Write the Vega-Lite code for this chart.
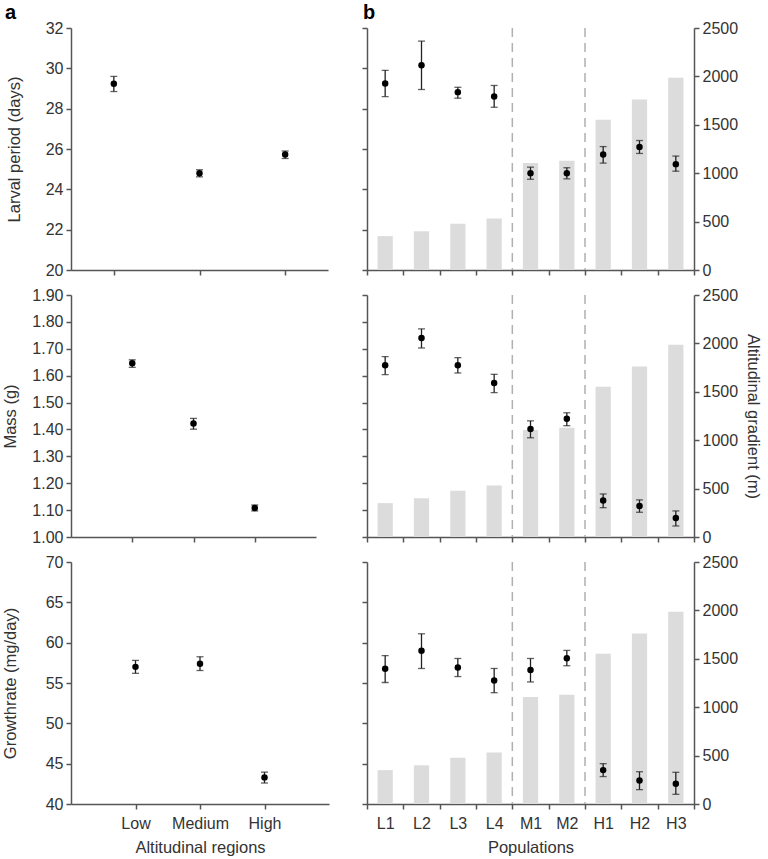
{
  "$schema": "https://vega.github.io/schema/vega-lite/v6.json",
  "background": "white",
  "padding": {"left": 1, "top": 3, "right": 2, "bottom": 2},
  "datasets": {
    "left": [
      {"v": "larval", "region": "Low", "mean": 29.23, "lo": 28.85, "hi": 29.6},
      {"v": "larval", "region": "Medium", "mean": 24.8, "lo": 24.62, "hi": 24.97},
      {"v": "larval", "region": "High", "mean": 25.73, "lo": 25.53, "hi": 25.9},
      {"v": "mass", "region": "Low", "mean": 1.646, "lo": 1.631, "hi": 1.659},
      {"v": "mass", "region": "Medium", "mean": 1.422, "lo": 1.401, "hi": 1.441},
      {"v": "mass", "region": "High", "mean": 1.108, "lo": 1.097, "hi": 1.119},
      {"v": "growth", "region": "Low", "mean": 57.0, "lo": 56.2, "hi": 57.8},
      {"v": "growth", "region": "Medium", "mean": 57.4, "lo": 56.55, "hi": 58.25},
      {"v": "growth", "region": "High", "mean": 43.3, "lo": 42.6, "hi": 43.95}
    ],
    "right": [
      {"v": "larval", "pop": "L1", "mean": 29.25, "lo": 28.6, "hi": 29.9},
      {"v": "larval", "pop": "L2", "mean": 30.15, "lo": 28.95, "hi": 31.35},
      {"v": "larval", "pop": "L3", "mean": 28.82, "lo": 28.52, "hi": 29.06},
      {"v": "larval", "pop": "L4", "mean": 28.6, "lo": 28.07, "hi": 29.15},
      {"v": "larval", "pop": "M1", "mean": 24.8, "lo": 24.5, "hi": 25.1},
      {"v": "larval", "pop": "M2", "mean": 24.8, "lo": 24.52, "hi": 25.07},
      {"v": "larval", "pop": "H1", "mean": 25.73, "lo": 25.3, "hi": 26.12},
      {"v": "larval", "pop": "H2", "mean": 26.1, "lo": 25.78, "hi": 26.42},
      {"v": "larval", "pop": "H3", "mean": 25.25, "lo": 24.9, "hi": 25.65},
      {"v": "mass", "pop": "L1", "mean": 1.639, "lo": 1.604, "hi": 1.671},
      {"v": "mass", "pop": "L2", "mean": 1.74, "lo": 1.703, "hi": 1.774},
      {"v": "mass", "pop": "L3", "mean": 1.639, "lo": 1.61, "hi": 1.667},
      {"v": "mass", "pop": "L4", "mean": 1.573, "lo": 1.537, "hi": 1.605},
      {"v": "mass", "pop": "M1", "mean": 1.402, "lo": 1.369, "hi": 1.432},
      {"v": "mass", "pop": "M2", "mean": 1.44, "lo": 1.414, "hi": 1.462},
      {"v": "mass", "pop": "H1", "mean": 1.136, "lo": 1.109, "hi": 1.16},
      {"v": "mass", "pop": "H2", "mean": 1.115, "lo": 1.092, "hi": 1.138},
      {"v": "mass", "pop": "H3", "mean": 1.071, "lo": 1.041, "hi": 1.097},
      {"v": "growth", "pop": "L1", "mean": 56.76, "lo": 55.06, "hi": 58.4},
      {"v": "growth", "pop": "L2", "mean": 59.0, "lo": 56.8, "hi": 61.1},
      {"v": "growth", "pop": "L3", "mean": 56.93, "lo": 55.8, "hi": 58.04},
      {"v": "growth", "pop": "L4", "mean": 55.3, "lo": 53.8, "hi": 56.8},
      {"v": "growth", "pop": "M1", "mean": 56.6, "lo": 55.13, "hi": 58.04},
      {"v": "growth", "pop": "M2", "mean": 58.08, "lo": 57.14, "hi": 59.04},
      {"v": "growth", "pop": "H1", "mean": 44.2, "lo": 43.4, "hi": 45.0},
      {"v": "growth", "pop": "H2", "mean": 42.9, "lo": 41.78, "hi": 44.0},
      {"v": "growth", "pop": "H3", "mean": 42.5, "lo": 41.2, "hi": 43.93}
    ],
    "alt": [
      {"pop": "L1", "alt": 350},
      {"pop": "L2", "alt": 400},
      {"pop": "L3", "alt": 478},
      {"pop": "L4", "alt": 532},
      {"pop": "M1", "alt": 1105},
      {"pop": "M2", "alt": 1128},
      {"pop": "H1", "alt": 1552},
      {"pop": "H2", "alt": 1762},
      {"pop": "H3", "alt": 1985}
    ],
    "dividers": [
      {"pop": "M1"},
      {"pop": "H1"}
    ]
  },
  "columns": 2,
  "spacing": {"row": 25, "column": 38},
  "bounds": "flush",
  "concat": [
    {
      "width": 257, "height": 242,
      "title": {"text": "a", "anchor": "start", "frame": "group", "fontSize": 20, "fontWeight": "bold", "font": "Liberation Sans", "color": "#000", "dx": -66, "offset": -3},
      "data": {"name": "left"},
      "transform": [{"filter": "datum.v == 'larval'"}],
      "encoding": {
        "x": {"field": "region", "type": "nominal", "sort": null, "scale": {"type": "point", "domain": ["Low", "Medium", "High"], "padding": 0.5}, "axis": {"labels": false, "title": null}}
      },
      "layer": [
        {"mark": {"type": "rule", "color": "#222", "strokeWidth": 1.3},
         "encoding": {"y": {"field": "lo", "type": "quantitative", "title": "Larval period (days)", "scale": {"domain": [20, 32], "nice": false, "zero": false}, "axis": {"values": [20, 22, 24, 26, 28, 30, 32], "titleX": -49}}, "y2": {"field": "hi"}}},
        {"mark": {"type": "tick", "color": "#222", "size": 7, "thickness": 1.3},
         "encoding": {"y": {"field": "lo", "type": "quantitative", "title": "Larval period (days)", "axis": {"values": [20, 22, 24, 26, 28, 30, 32], "titleX": -49}}}},
        {"mark": {"type": "tick", "color": "#222", "size": 7, "thickness": 1.3},
         "encoding": {"y": {"field": "hi", "type": "quantitative", "title": "Larval period (days)", "axis": {"values": [20, 22, 24, 26, 28, 30, 32], "titleX": -49}}}},
        {"mark": {"type": "circle", "color": "#000", "size": 42, "opacity": 1},
         "encoding": {"y": {"field": "mean", "type": "quantitative", "title": "Larval period (days)", "axis": {"values": [20, 22, 24, 26, 28, 30, 32], "titleX": -49}}}}
      ]
    },
    {
      "width": 327, "height": 242,
      "title": {"text": "b", "anchor": "start", "frame": "group", "fontSize": 20, "fontWeight": "bold", "font": "Liberation Sans", "color": "#000", "dx": -4, "offset": -3},
      "encoding": {
        "x": {"field": "pop", "type": "nominal", "sort": null, "scale": {"type": "band", "domain": ["L1", "L2", "L3", "L4", "M1", "M2", "H1", "H2", "H3"], "paddingInner": 0, "paddingOuter": 0}, "axis": {"labels": false, "title": null, "tickBand": "extent"}}
      },
      "layer": [
        {"data": {"name": "alt"}, "mark": {"type": "bar", "color": "#dcdcdc", "width": {"band": 0.42}},
         "encoding": {"y": {"field": "alt", "type": "quantitative", "title": null, "scale": {"domain": [0, 2500], "nice": false}, "axis": {"orient": "right", "format": "d", "values": [0, 500, 1000, 1500, 2000, 2500]}}}},
        {"data": {"name": "dividers"}, "mark": {"type": "rule", "color": "#b0b0b0", "strokeWidth": 1.5, "strokeDash": [9, 6]},
         "encoding": {"x": {"field": "pop", "type": "nominal", "bandPosition": 0}}},
        {"data": {"name": "right"},
         "transform": [{"filter": "datum.v == 'larval'"}],
         "layer": [
           {"mark": {"type": "rule", "color": "#222", "strokeWidth": 1.3},
            "encoding": {"y": {"field": "lo", "type": "quantitative", "title": null, "scale": {"domain": [20, 32], "nice": false, "zero": false}, "axis": {"orient": "left", "labels": false, "values": [20, 22, 24, 26, 28, 30, 32]}}, "y2": {"field": "hi"}}},
           {"mark": {"type": "tick", "color": "#222", "size": 7, "thickness": 1.3},
            "encoding": {"y": {"field": "lo", "type": "quantitative", "title": null, "axis": {"orient": "left", "labels": false, "values": [20, 22, 24, 26, 28, 30, 32]}}}},
           {"mark": {"type": "tick", "color": "#222", "size": 7, "thickness": 1.3},
            "encoding": {"y": {"field": "hi", "type": "quantitative", "title": null, "axis": {"orient": "left", "labels": false, "values": [20, 22, 24, 26, 28, 30, 32]}}}},
           {"mark": {"type": "circle", "color": "#000", "size": 42, "opacity": 1},
            "encoding": {"y": {"field": "mean", "type": "quantitative", "title": null, "axis": {"orient": "left", "labels": false, "values": [20, 22, 24, 26, 28, 30, 32]}}}}
         ]
        }
      ],
      "resolve": {"scale": {"y": "independent"}}
    },
    {
      "width": 245, "height": 242,
      "data": {"name": "left"},
      "transform": [{"filter": "datum.v == 'mass'"}],
      "encoding": {
        "x": {"field": "region", "type": "nominal", "sort": null, "scale": {"type": "point", "domain": ["Low", "Medium", "High"], "padding": 1}, "axis": {"labels": false, "title": null}}
      },
      "layer": [
        {"mark": {"type": "rule", "color": "#222", "strokeWidth": 1.3},
         "encoding": {"y": {"field": "lo", "type": "quantitative", "title": "Mass (g)", "scale": {"domain": [1.0, 1.9], "nice": false, "zero": false}, "axis": {"values": [1.0, 1.1, 1.2, 1.3, 1.4, 1.5, 1.6, 1.7, 1.8, 1.9], "format": ".2f", "titleX": -53}}, "y2": {"field": "hi"}}},
        {"mark": {"type": "tick", "color": "#222", "size": 7, "thickness": 1.3},
         "encoding": {"y": {"field": "lo", "type": "quantitative", "title": "Mass (g)", "axis": {"values": [1.0, 1.1, 1.2, 1.3, 1.4, 1.5, 1.6, 1.7, 1.8, 1.9], "format": ".2f", "titleX": -53}}}},
        {"mark": {"type": "tick", "color": "#222", "size": 7, "thickness": 1.3},
         "encoding": {"y": {"field": "hi", "type": "quantitative", "title": "Mass (g)", "axis": {"values": [1.0, 1.1, 1.2, 1.3, 1.4, 1.5, 1.6, 1.7, 1.8, 1.9], "format": ".2f", "titleX": -53}}}},
        {"mark": {"type": "circle", "color": "#000", "size": 42, "opacity": 1},
         "encoding": {"y": {"field": "mean", "type": "quantitative", "title": "Mass (g)", "axis": {"values": [1.0, 1.1, 1.2, 1.3, 1.4, 1.5, 1.6, 1.7, 1.8, 1.9], "format": ".2f", "titleX": -53}}}}
      ]
    },
    {
      "width": 327, "height": 242,
      "encoding": {
        "x": {"field": "pop", "type": "nominal", "sort": null, "scale": {"type": "band", "domain": ["L1", "L2", "L3", "L4", "M1", "M2", "H1", "H2", "H3"], "paddingInner": 0, "paddingOuter": 0}, "axis": {"labels": false, "title": null, "tickBand": "extent"}}
      },
      "layer": [
        {"data": {"name": "alt"}, "mark": {"type": "bar", "color": "#dcdcdc", "width": {"band": 0.42}},
         "encoding": {"y": {"field": "alt", "type": "quantitative", "title": "Altitudinal gradient (m)", "scale": {"domain": [0, 2500], "nice": false}, "axis": {"orient": "right", "format": "d", "values": [0, 500, 1000, 1500, 2000, 2500], "titlePadding": 7}}}},
        {"data": {"name": "dividers"}, "mark": {"type": "rule", "color": "#b0b0b0", "strokeWidth": 1.5, "strokeDash": [9, 6]},
         "encoding": {"x": {"field": "pop", "type": "nominal", "bandPosition": 0}}},
        {"data": {"name": "right"},
         "transform": [{"filter": "datum.v == 'mass'"}],
         "layer": [
           {"mark": {"type": "rule", "color": "#222", "strokeWidth": 1.3},
            "encoding": {"y": {"field": "lo", "type": "quantitative", "title": null, "scale": {"domain": [1.0, 1.9], "nice": false, "zero": false}, "axis": {"orient": "left", "labels": false, "values": [1.0, 1.1, 1.2, 1.3, 1.4, 1.5, 1.6, 1.7, 1.8, 1.9]}}, "y2": {"field": "hi"}}},
           {"mark": {"type": "tick", "color": "#222", "size": 7, "thickness": 1.3},
            "encoding": {"y": {"field": "lo", "type": "quantitative", "title": null, "axis": {"orient": "left", "labels": false, "values": [1.0, 1.1, 1.2, 1.3, 1.4, 1.5, 1.6, 1.7, 1.8, 1.9]}}}},
           {"mark": {"type": "tick", "color": "#222", "size": 7, "thickness": 1.3},
            "encoding": {"y": {"field": "hi", "type": "quantitative", "title": null, "axis": {"orient": "left", "labels": false, "values": [1.0, 1.1, 1.2, 1.3, 1.4, 1.5, 1.6, 1.7, 1.8, 1.9]}}}},
           {"mark": {"type": "circle", "color": "#000", "size": 42, "opacity": 1},
            "encoding": {"y": {"field": "mean", "type": "quantitative", "title": null, "axis": {"orient": "left", "labels": false, "values": [1.0, 1.1, 1.2, 1.3, 1.4, 1.5, 1.6, 1.7, 1.8, 1.9]}}}}
         ]
        }
      ],
      "resolve": {"scale": {"y": "independent"}}
    },
    {
      "width": 258, "height": 242,
      "data": {"name": "left"},
      "transform": [{"filter": "datum.v == 'growth'"}],
      "encoding": {
        "x": {"field": "region", "type": "nominal", "sort": null, "title": "Altitudinal regions", "scale": {"type": "point", "domain": ["Low", "Medium", "High"], "padding": 1}, "axis": {"labelAngle": 0, "labelPadding": 6, "titlePadding": 8}}
      },
      "layer": [
        {"mark": {"type": "rule", "color": "#222", "strokeWidth": 1.3},
         "encoding": {"y": {"field": "lo", "type": "quantitative", "title": "Growthrate (mg/day)", "scale": {"domain": [40, 70], "nice": false, "zero": false}, "axis": {"values": [40, 45, 50, 55, 60, 65, 70], "titleX": -53}}, "y2": {"field": "hi"}}},
        {"mark": {"type": "tick", "color": "#222", "size": 7, "thickness": 1.3},
         "encoding": {"y": {"field": "lo", "type": "quantitative", "title": "Growthrate (mg/day)", "axis": {"values": [40, 45, 50, 55, 60, 65, 70], "titleX": -53}}}},
        {"mark": {"type": "tick", "color": "#222", "size": 7, "thickness": 1.3},
         "encoding": {"y": {"field": "hi", "type": "quantitative", "title": "Growthrate (mg/day)", "axis": {"values": [40, 45, 50, 55, 60, 65, 70], "titleX": -53}}}},
        {"mark": {"type": "circle", "color": "#000", "size": 42, "opacity": 1},
         "encoding": {"y": {"field": "mean", "type": "quantitative", "title": "Growthrate (mg/day)", "axis": {"values": [40, 45, 50, 55, 60, 65, 70], "titleX": -53}}}}
      ]
    },
    {
      "width": 327, "height": 242,
      "encoding": {
        "x": {"field": "pop", "type": "nominal", "sort": null, "title": "Populations", "scale": {"type": "band", "domain": ["L1", "L2", "L3", "L4", "M1", "M2", "H1", "H2", "H3"], "paddingInner": 0, "paddingOuter": 0}, "axis": {"labelAngle": 0, "tickBand": "extent", "labelPadding": 6, "titlePadding": 8}}
      },
      "layer": [
        {"data": {"name": "alt"}, "mark": {"type": "bar", "color": "#dcdcdc", "width": {"band": 0.42}},
         "encoding": {"y": {"field": "alt", "type": "quantitative", "title": null, "scale": {"domain": [0, 2500], "nice": false}, "axis": {"orient": "right", "format": "d", "values": [0, 500, 1000, 1500, 2000, 2500]}}}},
        {"data": {"name": "dividers"}, "mark": {"type": "rule", "color": "#b0b0b0", "strokeWidth": 1.5, "strokeDash": [9, 6]},
         "encoding": {"x": {"field": "pop", "type": "nominal", "bandPosition": 0}}},
        {"data": {"name": "right"},
         "transform": [{"filter": "datum.v == 'growth'"}],
         "layer": [
           {"mark": {"type": "rule", "color": "#222", "strokeWidth": 1.3},
            "encoding": {"y": {"field": "lo", "type": "quantitative", "title": null, "scale": {"domain": [40, 70], "nice": false, "zero": false}, "axis": {"orient": "left", "labels": false, "values": [40, 45, 50, 55, 60, 65, 70]}}, "y2": {"field": "hi"}}},
           {"mark": {"type": "tick", "color": "#222", "size": 7, "thickness": 1.3},
            "encoding": {"y": {"field": "lo", "type": "quantitative", "title": null, "axis": {"orient": "left", "labels": false, "values": [40, 45, 50, 55, 60, 65, 70]}}}},
           {"mark": {"type": "tick", "color": "#222", "size": 7, "thickness": 1.3},
            "encoding": {"y": {"field": "hi", "type": "quantitative", "title": null, "axis": {"orient": "left", "labels": false, "values": [40, 45, 50, 55, 60, 65, 70]}}}},
           {"mark": {"type": "circle", "color": "#000", "size": 42, "opacity": 1},
            "encoding": {"y": {"field": "mean", "type": "quantitative", "title": null, "axis": {"orient": "left", "labels": false, "values": [40, 45, 50, 55, 60, 65, 70]}}}}
         ]
        }
      ],
      "resolve": {"scale": {"y": "independent"}}
    }
  ],
  "config": {
    "view": {"stroke": null},
    "axis": {
      "grid": false,
      "domainColor": "#555",
      "tickColor": "#555",
      "domainWidth": 1.5,
      "tickWidth": 1.5,
      "tickSize": 5,
      "labelFont": "Liberation Sans",
      "labelFontSize": 16,
      "labelColor": "#333",
      "labelPadding": 3,
      "labelOverlap": false,
      "titleFont": "Liberation Sans",
      "titleFontSize": 16.5,
      "titleFontWeight": "normal",
      "titleColor": "#333"
    }
  }
}
